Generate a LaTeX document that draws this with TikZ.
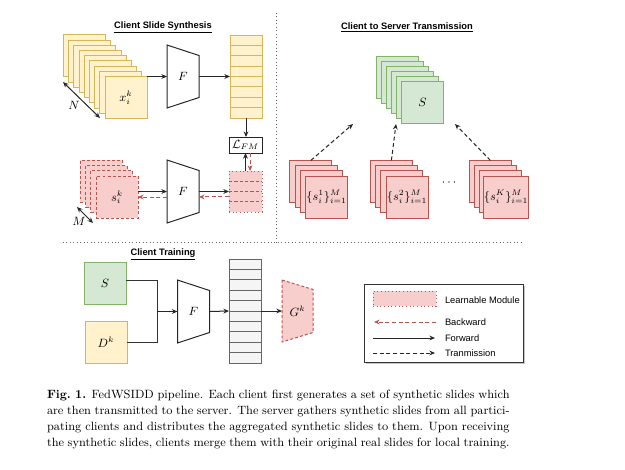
\documentclass[tikz,border=0pt]{standalone}
\usepackage{fontspec}
\newfontfamily\arialf{Liberation Sans}
\usetikzlibrary{arrows.meta,calc}
\definecolor{yfill}{HTML}{FFF2CC}
\definecolor{ydraw}{HTML}{D6B656}
\definecolor{gfill}{HTML}{D5E8D4}
\definecolor{gdraw}{HTML}{82B366}
\definecolor{rfill}{HTML}{F8CECC}
\definecolor{rdraw}{HTML}{B85450}
\definecolor{cfill}{HTML}{F5F5F5}
\definecolor{cdraw}{HTML}{666666}
\begin{document}
\begin{tikzpicture}[x=0.75pt,y=-0.75pt,
  every node/.style={inner sep=0pt, outer sep=0pt},
  sq/.style={minimum width=31.5pt, minimum height=31.5pt, line width=0.75pt},
  ysq/.style={sq, fill=yfill, draw=ydraw},
  gsq/.style={sq, fill=gfill, draw=gdraw},
  rsq/.style={sq, fill=rfill, draw=rdraw},
  rdsq/.style={sq, fill=rfill, draw=rdraw, dash pattern=on 2.2pt off 1.6pt},
  mathlbl/.style={font=\fontsize{9}{10}\selectfont},
  ttl/.style={font=\arialf\bfseries\fontsize{7}{8}\selectfont},
  lgd/.style={font=\arialf\fontsize{7}{8}\selectfont, anchor=west},
  fwd/.style={-{Stealth[length=4.2pt,width=3.6pt]}, line width=0.75pt, draw=black!85},
  bwd/.style={-{Stealth[length=4.2pt,width=3.6pt]}, line width=0.75pt, draw=rdraw, dash pattern=on 3pt off 2pt},
  trn/.style={-{Stealth[length=4.2pt,width=3.6pt]}, line width=0.75pt, draw=black!85, dash pattern=on 3pt off 2pt},
  dbl/.style={{Stealth[length=4.2pt,width=3.6pt]}-{Stealth[length=4.2pt,width=3.6pt]}, line width=0.75pt, draw=black!85},
  wire/.style={line width=0.75pt, draw=black!80},
  sep/.style={line width=0.6pt, dotted, draw=black!60},
  trap/.style={minimum width=24pt, minimum height=47.25pt},
]
\useasboundingbox (0,0) rectangle (625,469);

% ---------- titles and separators ----------
\node[ttl] (t1) at (163,27) {\underline{Client Slide Synthesis}};
\node[ttl] (t2) at (407,27) {\underline{Client to Server Transmission}};
\node[ttl] (t3) at (163,254) {\underline{Client Training}};
\coordinate (v1) at (276,13);
\coordinate (v2) at (276,242);
\coordinate (h1) at (63,242);
\coordinate (h2) at (521,242);
\draw[sep] (v1) -- (v2);
\draw[sep] (h1) -- (h2);

% ---------- client slide synthesis ----------
\foreach \i in {8,7,...,1} \node[ysq] (ys\i) at ({126-5.2*\i},{97.5-5.2*\i}) {};
\node[ysq, mathlbl] (xk) at (126,97.5) {$x_i^k$};
\coordinate (n1) at (63,82);
\coordinate (n2) at (100,118);
\draw[dbl] (n1) -- (n2);
\node[mathlbl] (nl) at (74,105) {$N$};

\node[trap, mathlbl] (F1) at (183,76.5) {$F$};
\draw[line width=0.75pt, draw=black!85] (F1.north west) -- ([yshift=-7.875pt]F1.north east) -- ([yshift=7.875pt]F1.south east) -- (F1.south west) -- cycle;

\node[fill=yfill, draw=ydraw, line width=0.75pt, minimum width=24pt, minimum height=62.25pt] (feat) at (246,76.5) {};
\foreach \k in {1,...,7} \draw[ydraw, line width=0.75pt] ($(feat.north west)!\k/8!(feat.south west)$) -- ($(feat.north east)!\k/8!(feat.south east)$);

\node[draw=black!85, fill=white, line width=0.75pt, minimum width=24.75pt, minimum height=12pt, mathlbl] (lfm) at (245.5,145) {$\mathcal{L}_{FM}$};

\foreach \i in {3,2,1} \node[rdsq] (rs\i) at ({117-5.2*\i},{197-5.2*\i}) {};
\node[rdsq, mathlbl] (sk) at (117,197) {$s_i^k$};
\coordinate (m1) at (77,207);
\coordinate (m2) at (93,223);
\draw[dbl] (m1) -- (m2);
\node[mathlbl] (ml) at (79,221) {$M$};

\node[trap, mathlbl] (F2) at (183,191.5) {$F$};
\draw[line width=0.75pt, draw=black!85] (F2.north west) -- ([yshift=-7.875pt]F2.north east) -- ([yshift=7.875pt]F2.south east) -- (F2.south west) -- cycle;

\node[fill=rfill, draw=rdraw, dotted, line width=0.75pt, minimum width=24.75pt, minimum height=30.75pt] (rcol) at (245.5,191.5) {};
\foreach \k in {1,2,3} \draw[rdraw, line width=0.75pt, dash pattern=on 2.5pt off 1.5pt] ($(rcol.north west)!\k/4!(rcol.south west)$) -- ($(rcol.north east)!\k/4!(rcol.south east)$);

\draw[fwd] (xk.north east) -- (F1.west);
\draw[fwd] (F1.east) -- (feat.west);
\draw[fwd] (feat.south) -- (feat.south |- lfm.north);
\draw[fwd] (sk.east |- F2.west) -- (F2.west);
\draw[bwd] (F2.west |- sk.east) -- (sk.east);
\draw[fwd] (F2.east) -- (rcol.west);
\draw[bwd] ([yshift=-4.1pt]rcol.west) -- ([yshift=-4.1pt]F2.east);
\draw[fwd] (rcol.north) -- (lfm.south);
\draw[bwd] ([xshift=3.4pt]lfm.south) -- ([xshift=3.4pt]rcol.north);

% ---------- client to server transmission ----------
\foreach \i in {5,4,...,1} \node[gsq] (gs\i) at ({422.5-5.1*\i},{102.5-5.1*\i}) {};
\node[gsq, mathlbl] (S) at (422.5,102.5) {$S$};

\foreach \c/\fx/\lab in {1/326.5/1, 2/407/2, 3/506/K} {
  \foreach \i in {3,2,1} \node[rsq] (t\c b\i) at ({\fx-5.2*\i},{197-5.2*\i}) {};
  \node[rsq, mathlbl] (t\c) at (\fx,197) {$\{s_i^{\lab}\}_{i=1}^M$};
}
\node[mathlbl] (dots) at (449,183) {$\cdots$};
\coordinate (e1) at (353,124);
\coordinate (e2) at (396,124);
\coordinate (e3) at (455,124);
\draw[trn] (t1b3.north) -- (e1);
\draw[trn] (t2b3.north) -- (e2);
\draw[trn] (t3b3.north) -- (e3);

% ---------- client training ----------
\node[gsq, mathlbl] (S2) at (105,283) {$S$};
\node[ysq, mathlbl] (Dk) at (106,342.5) {$D^k$};
\node[trap, mathlbl] (F3) at (193.5,311.5) {$F$};
\draw[line width=0.75pt, draw=black!85] (F3.north west) -- ([yshift=-7.875pt]F3.north east) -- ([yshift=7.875pt]F3.south east) -- (F3.south west) -- cycle;
\coordinate (j) at (157,311.5);
\draw[wire] ([yshift=2.25pt]S2.east) -| (j);
\draw[wire] (Dk.east) -| (j);
\draw[fwd] (j) -- (F3.west);

\node[fill=cfill, draw=cdraw, line width=0.75pt, minimum width=24pt, minimum height=78pt] (gcol) at (245,311) {};
\foreach \k in {1,...,9} \draw[cdraw, line width=0.75pt] ($(gcol.north west)!\k/10!(gcol.south west)$) -- ($(gcol.north east)!\k/10!(gcol.south east)$);

\node[minimum width=23.25pt, minimum height=46.5pt, mathlbl] (G) at (297.5,311) {};
\draw[fill=rfill, draw=rdraw, line width=0.75pt, dash pattern=on 2.2pt off 1.6pt] (G.north west) -- ([yshift=-7.1pt]G.north east) -- ([yshift=7.1pt]G.south east) -- (G.south west) -- cycle;
\node[mathlbl] (Gl) at (G) {$G^k$};

\draw[fwd] (F3.east) -- (gcol.west);
\draw[fwd] (gcol.east) -- (G.west);

% ---------- legend ----------
\node[fill=black!22, minimum width=119.25pt, minimum height=58.5pt] (legsh) at (445,324.5) {};
\node[draw=black!80, line width=0.75pt, fill=white, minimum width=119.25pt, minimum height=58.5pt] (leg) at (443.5,323) {};
\node[fill=rfill, draw=rdraw, dotted, line width=0.75pt, minimum width=47.25pt, minimum height=11.25pt] (sw) at (404.5,298.5) {};
\node[lgd] (l1) at (445,300) {Learnable Module};
\node[lgd] (l2) at (445,322) {Backward};
\node[lgd] (l3) at (445,338) {Forward};
\node[lgd] (l4) at (445,353) {Tranmission};
\coordinate (ba) at (436,322);
\coordinate (bb) at (374,322);
\coordinate (fa) at (373,338);
\coordinate (fb) at (435,338);
\coordinate (ta) at (373,353);
\coordinate (tb) at (435,353);
\draw[bwd] (ba) -- (bb);
\draw[fwd] (fa) -- (fb);
\draw[trn] (ta) -- (tb);

% ---------- caption ----------
\node[anchor=north west, text width=347pt, align=justify, font=\fontsize{9}{11.8}\selectfont] (cap) at (47,390.5)
{\textbf{Fig.\ 1.} FedWSIDD pipeline. Each client first generates a set of synthetic slides which\linebreak are then transmitted to the server. The server gathers synthetic slides from all partici-\linebreak pating clients and distributes the aggregated synthetic slides to them. Upon receiving\linebreak the synthetic slides, clients merge them with their original real slides for local training.};
\end{tikzpicture}
\end{document}
